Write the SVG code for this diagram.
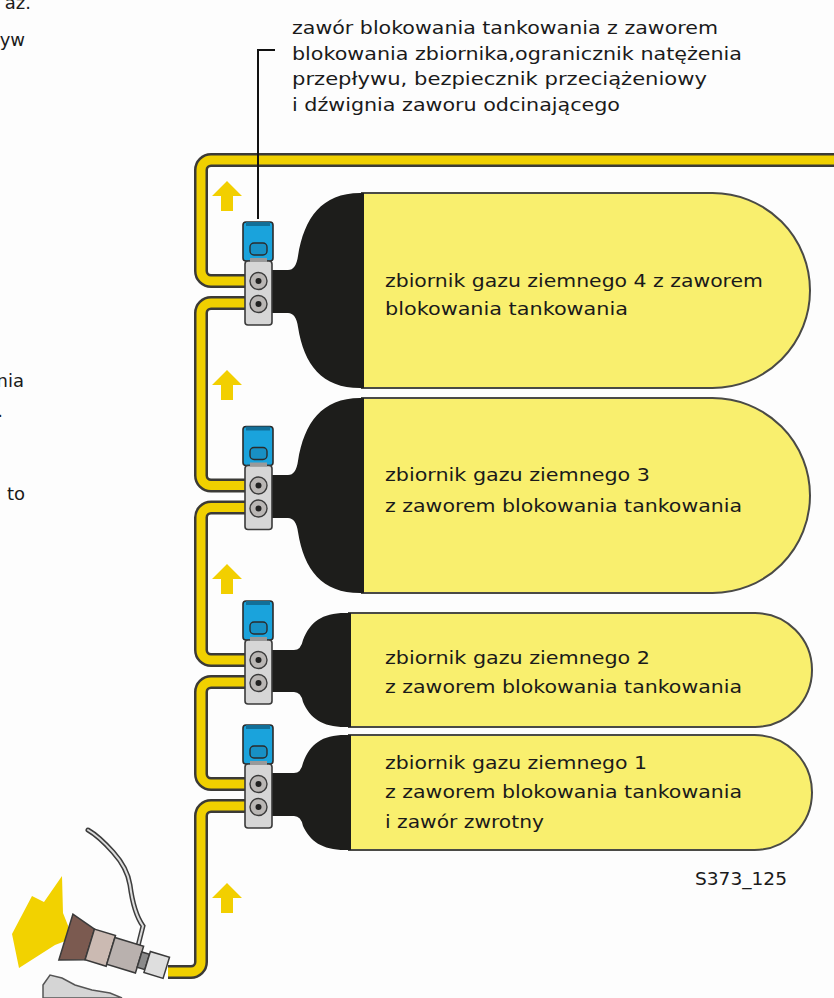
<svg xmlns="http://www.w3.org/2000/svg" width="834" height="998" viewBox="0 0 834 998">
  <style>
    .txt { font-family: "DejaVu Sans", "Liberation Sans", sans-serif; font-size: 18px; fill: #1a1a1a; }
    .pipe-o { fill: none; stroke: #3b3a36; stroke-width: 14; }
    .pipe-i { fill: none; stroke: #f0d000; stroke-width: 9; }
    .dome { fill: #1d1d1b; }
    .body { fill: #f9ef6e; stroke: #4a4a46; stroke-width: 2; }
    .cap { fill: #1aa3dc; stroke: #2b2b2b; stroke-width: 1.6; }
    .win { fill: #1890c4; stroke: #2b2b2b; stroke-width: 1.4; }
    .blk { fill: #d6d6d6; stroke: #3a3a3a; stroke-width: 1.6; }
    .port { fill: #b9b6b4; stroke: #3a3a3a; stroke-width: 1.4; }
    .hole { fill: #222; }
    .arrow { fill: #f2cf00; }
    .lead { fill: none; stroke: #111; stroke-width: 2; }
  </style>
  <defs>
    <!-- shut-off valve block, origin at port midpoint -->
    <g id="valve">
      <rect class="cap" x="243" y="-70" width="30" height="39" rx="3"/>
      <rect x="246" y="-70" width="24" height="4" fill="#126f98"/>
      <rect class="win" x="250" y="-49" width="17" height="12" rx="4"/>
      <rect class="blk" x="245" y="-31" width="27" height="64" rx="3"/>
      <rect x="250" y="-34" width="17" height="4" fill="#9a9a9a"/>
      <circle class="port" cx="258.5" cy="-11" r="8.5"/>
      <circle class="hole" cx="258.5" cy="-11" r="3"/>
      <circle class="port" cx="258.5" cy="12" r="8.5"/>
      <circle class="hole" cx="258.5" cy="12" r="3"/>
    </g>
    <polygon id="up" points="0,0 15,15 6,15 6,30 -6,30 -6,15 -15,15"/>
  </defs>

  <rect width="834" height="998" fill="#fdfdfd"/>

  <!-- text cut at the left page edge -->
  <g class="txt">
    <text x="31" y="8.5" text-anchor="end">az.</text>
    <text x="25" y="46" text-anchor="end">yw</text>
    <text x="24" y="386.5" text-anchor="end">nia</text>
    <text x="3" y="417" text-anchor="end">.</text>
    <text x="25" y="500" text-anchor="end">to</text>
  </g>

  <!-- tanks -->
  <g id="tank4">
    <path class="body" d="M362,193 H712.5 A97.5,97.5 0 0 1 712.5,388 H362 Z"/>
    <path class="dome" d="M272,270 H288 Q296,270 298,256 C304,218 322,193 360,193 H364 V388 H360 C322,388 304,365 298,327 Q296,313 288,313 H272 Z"/>
    <text class="txt" x="385" y="287" textLength="378" lengthAdjust="spacingAndGlyphs">zbiornik gazu ziemnego 4 z zaworem</text>
    <text class="txt" x="385" y="315" textLength="243" lengthAdjust="spacingAndGlyphs">blokowania tankowania</text>
  </g>
  <g id="tank3">
    <path class="body" d="M362,398 H712.5 A97.5,97.5 0 0 1 712.5,593 H362 Z"/>
    <path class="dome" d="M272,475 H288 Q296,475 298,461 C304,423 322,398 360,398 H364 V593 H360 C322,593 304,570 298,532 Q296,518 288,518 H272 Z"/>
    <text class="txt" x="385" y="481" textLength="265" lengthAdjust="spacingAndGlyphs">zbiornik gazu ziemnego 3</text>
    <text class="txt" x="385" y="512" textLength="357" lengthAdjust="spacingAndGlyphs">z zaworem blokowania tankowania</text>
  </g>
  <g id="tank2">
    <path class="body" d="M349,613 H755 A57,57 0 0 1 755,727 H349 Z"/>
    <path class="dome" d="M272,650 H294 Q301,650 303,640 C310,622 322,613 345,613 H351 V727 H345 C322,727 310,718 303,702 Q301,692 294,692 H272 Z"/>
    <text class="txt" x="385" y="664" textLength="265" lengthAdjust="spacingAndGlyphs">zbiornik gazu ziemnego 2</text>
    <text class="txt" x="385" y="693" textLength="357" lengthAdjust="spacingAndGlyphs">z zaworem blokowania tankowania</text>
  </g>
  <g id="tank1">
    <path class="body" d="M349,735 H754.5 A57.5,57.5 0 0 1 754.5,850 H349 Z"/>
    <path class="dome" d="M272,773 H294 Q301,773 303,763 C310,744 322,735 345,735 H351 V850 H345 C322,850 310,841 303,826 Q301,816 294,816 H272 Z"/>
    <text class="txt" x="385" y="769" textLength="262" lengthAdjust="spacingAndGlyphs">zbiornik gazu ziemnego 1</text>
    <text class="txt" x="385" y="798" textLength="357" lengthAdjust="spacingAndGlyphs">z zaworem blokowania tankowania</text>
    <text class="txt" x="385" y="828" textLength="159" lengthAdjust="spacingAndGlyphs">i zawór zwrotny</text>
  </g>

  <!-- gas lines between valves -->
  <g id="connectors">
    <g class="pipe-o">
      <path d="M247,281 H211 A10,10 0 0 1 201,271 V170 A10,10 0 0 1 211,160 H840"/>
      <path d="M247,303 H211 A10,10 0 0 0 201,313 V475.5 A10,10 0 0 0 211,485.5 H247"/>
      <path d="M247,507.5 H211 A10,10 0 0 0 201,517.5 V650 A10,10 0 0 0 211,660 H247"/>
      <path d="M247,682 H211 A10,10 0 0 0 201,692 V774 A10,10 0 0 0 211,784 H247"/>
      <path d="M247,806 H211 A10,10 0 0 0 201,816 V962 A10,10 0 0 1 191,972 H168"/>
    </g>
    <g class="pipe-i">
      <path d="M247,281 H211 A10,10 0 0 1 201,271 V170 A10,10 0 0 1 211,160 H840"/>
      <path d="M247,303 H211 A10,10 0 0 0 201,313 V475.5 A10,10 0 0 0 211,485.5 H247"/>
      <path d="M247,507.5 H211 A10,10 0 0 0 201,517.5 V650 A10,10 0 0 0 211,660 H247"/>
      <path d="M247,682 H211 A10,10 0 0 0 201,692 V774 A10,10 0 0 0 211,784 H247"/>
      <path d="M247,806 H211 A10,10 0 0 0 201,816 V962 A10,10 0 0 1 191,972 H168"/>
    </g>
    <g class="arrow">
      <use href="#up" x="227" y="181"/>
      <use href="#up" x="227" y="370"/>
      <use href="#up" x="227" y="564"/>
      <use href="#up" x="227" y="883"/>
    </g>
    <path class="lead" d="M275,50 H258 V219"/>
  </g>

  <!-- valves -->
  <use id="valve4" href="#valve" y="292"/>
  <use id="valve3" href="#valve" y="496.5"/>
  <use id="valve2" href="#valve" y="671"/>
  <use id="valve1" href="#valve" y="795"/>

  <!-- filling connector -->
  <g id="filler">
    <polygon points="12,934 32,896 44,902 62,876 63,913 73,938 55,945 19,968" fill="#f2d200"/>
    <path d="M88,830 C95,834 104,842 113,852 C122,862 128,872 130,885 C132,900 135,915 143,926 L138,946" fill="none" stroke="#3d3d3d" stroke-width="5" stroke-linecap="round"/>
    <path d="M88,830 C95,834 104,842 113,852 C122,862 128,872 130,885 C132,900 135,915 143,926 L138,946" fill="none" stroke="#dcdcdc" stroke-width="2" stroke-linecap="round"/>
    <g transform="translate(85,943) rotate(17)" stroke="#3a3a3a" stroke-width="1.5">
      <path d="M-20,-24 L5,-16 L5,16 L-20,24 Z" fill="#7b5a50"/>
      <rect x="5" y="-16" width="22" height="32" fill="#cbbab2"/>
      <rect x="27" y="-14" width="30" height="28" fill="#b9b1ae"/>
      <rect x="57" y="-8" width="8" height="16" fill="#8a8a8a"/>
      <rect x="65" y="-11" width="20" height="22" fill="#dedede"/>
    </g>
    <polygon points="43,985 50,975 62,978 75,985 92,990 110,993 122,998 43,998" fill="#d5d5d5" stroke="#555" stroke-width="1.5"/>
  </g>

  <!-- callout -->
  <g id="label" class="txt">
    <text x="292" y="34" textLength="426" lengthAdjust="spacingAndGlyphs">zawór blokowania tankowania z zaworem</text>
    <text x="292" y="59.5" textLength="450" lengthAdjust="spacingAndGlyphs">blokowania zbiornika,ogranicznik natężenia</text>
    <text x="292" y="85" textLength="415" lengthAdjust="spacingAndGlyphs">przepływu, bezpiecznik przeciążeniowy</text>
    <text x="292" y="110.5" textLength="328" lengthAdjust="spacingAndGlyphs">i dźwignia zaworu odcinającego</text>
  </g>
  <text id="code" class="txt" x="695" y="885" textLength="92" lengthAdjust="spacingAndGlyphs">S373_125</text>
</svg>
